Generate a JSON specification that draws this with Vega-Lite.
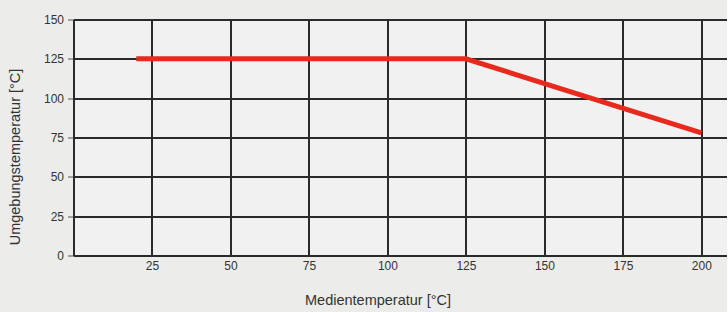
{
  "$schema": "https://vega.github.io/schema/vega-lite/v6.json",
  "width": 653,
  "height": 236,
  "autosize": {"type": "none"},
  "padding": {"left": 73.5, "top": 19.5, "right": 0, "bottom": 56},
  "background": "#ececeb",
  "config": {
    "view": {"fill": "#f1f1f1", "stroke": null},
    "font": "Liberation Sans",
    "axis": {
      "labelFont": "Liberation Sans",
      "titleFont": "Liberation Sans",
      "labelColor": "#333333",
      "titleColor": "#333333",
      "labelFontSize": 12,
      "titleFontSize": 14.5,
      "titleFontWeight": "normal",
      "gridColor": "#2a2a2a",
      "gridWidth": 2,
      "gridOpacity": 1,
      "domainColor": "#2a2a2a",
      "domainWidth": 2,
      "tickColor": "#555555"
    }
  },
  "data": {
    "values": [
      {"medien": 20, "umgebung": 125},
      {"medien": 125, "umgebung": 125},
      {"medien": 200, "umgebung": 78}
    ]
  },
  "mark": {"type": "line", "color": "#e8291d", "strokeWidth": 5, "strokeCap": "butt"},
  "encoding": {
    "x": {
      "field": "medien",
      "type": "quantitative",
      "scale": {"domain": [0, 208], "nice": false, "zero": false},
      "axis": {
        "title": "Medientemperatur [°C]",
        "values": [25, 50, 75, 100, 125, 150, 175, 200],
        "ticks": false,
        "labelPadding": 5,
        "titleX": 304,
        "titleY": 45,
        "titleBaseline": "middle",
        "titleAlign": "center",
        "titlePadding": 0
      }
    },
    "y": {
      "field": "umgebung",
      "type": "quantitative",
      "scale": {"domain": [0, 150], "nice": false},
      "axis": {
        "title": "Umgebungstemperatur [°C]",
        "values": [0, 25, 50, 75, 100, 125, 150],
        "tickSize": 6,
        "tickWidth": 1,
        "labelPadding": 4,
        "titleAngle": -90,
        "titleX": -58,
        "titleY": 137,
        "titleBaseline": "middle",
        "titleAlign": "center"
      }
    }
  }
}
